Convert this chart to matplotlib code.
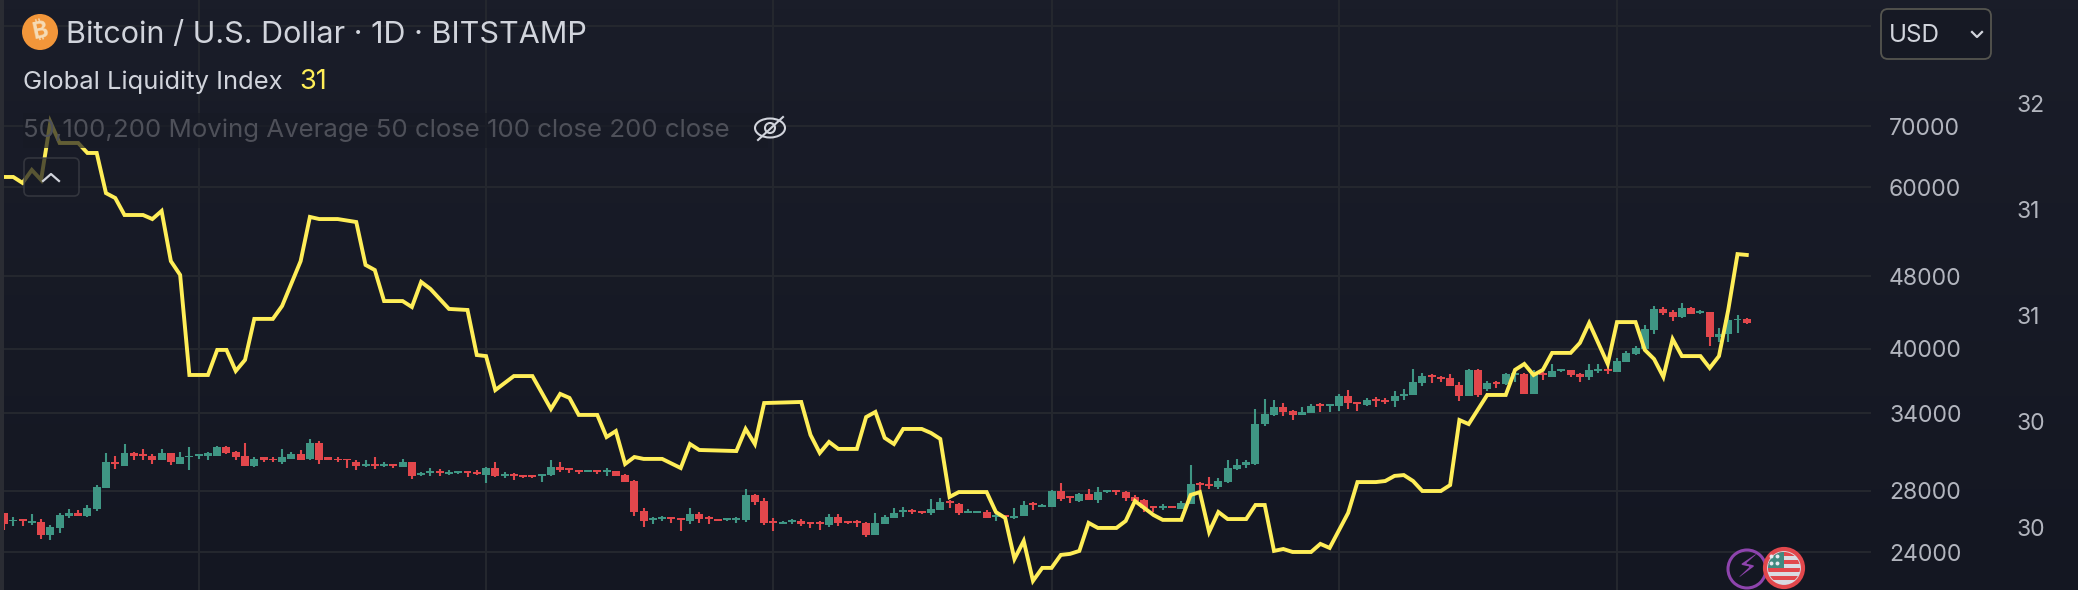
import matplotlib
matplotlib.use("Agg")
import matplotlib.pyplot as plt
from matplotlib.patches import Circle, Ellipse, FancyBboxPatch, Rectangle
import numpy as np

plt.rcParams['font.family'] = ['Inter', 'DejaVu Sans']

opens = [26490, 25920, 26050, 25850, 25890, 25050, 25500, 26290, 26490, 26290,
         26760, 28210, 30130, 29830, 30750, 30670, 30520, 30210, 30750, 29980,
         30440, 30520, 30590, 30590, 31220, 30830, 30520, 29830, 30440, 30360,
         30130, 30360, 30670, 30360, 31530, 30440, 30360, 30360, 30130, 29830,
         29980, 29830, 29980, 29750, 30130, 29160, 29310, 29460, 29230, 29310,
         29460, 29380, 29160, 29680, 29090, 29230, 29160, 29160, 29090, 29160,
         29750, 29680, 29530, 29380, 29530, 29380, 29450, 29160, 28720, 26620,
         26020, 26090, 26220, 26150, 25950, 26420, 26220, 26090, 26020, 26020,
         26020, 27720, 27300, 25950, 25760, 25890, 25950, 25890, 25890, 25690,
         26220, 25950, 25950, 25820, 25050, 25760, 26150, 26560, 26690, 26620,
         26490, 26690, 27300, 27100, 26490, 26490, 26560, 26220, 26360, 26150,
         26290, 27160, 26890, 26890, 28000, 27650, 27300, 27790, 27370, 27930,
         28070, 27930, 27580, 27370, 26960, 26830, 26960, 26760, 27100, 28570,
         28500, 28290, 28650, 29600, 29900, 29980, 33080, 33840, 34530, 34180,
         33840, 34010, 34800, 34620, 34620, 35510, 34970, 34710, 35240, 35150,
         35060, 35510, 35600, 36690, 37440, 37250, 37150, 36510, 35510, 37910,
         36140, 36780, 36600, 37440, 37530, 35690, 37630, 37250, 37820, 37910,
         37530, 37250, 37820, 38010, 37720, 38690, 39480, 39980, 41950, 44230,
         43900, 43340, 44340, 43790, 43900, 41210, 41530, 43010, 43120]
highs = [26490, 26220, 26090, 26420, 26090, 25700, 26490, 26760, 26690, 27030,
         28430, 30750, 30520, 31450, 30830, 31060, 30670, 31060, 30750, 30830,
         31290, 30670, 30830, 31370, 31370, 30910, 31530, 30440, 30440, 30440,
         31060, 30830, 30980, 31850, 31690, 30440, 30440, 30360, 30280, 30210,
         30440, 30060, 29980, 30360, 30130, 29380, 29680, 29600, 29530, 29460,
         29460, 29530, 29750, 30060, 29380, 29310, 29160, 29160, 29230, 30210,
         30130, 29680, 29530, 29530, 29530, 29680, 29450, 29230, 28790, 26830,
         26220, 26290, 26220, 26150, 26830, 26560, 26290, 26090, 26150, 26220,
         28140, 27790, 27510, 26150, 25950, 26090, 26090, 25890, 25950, 26420,
         26420, 25950, 26020, 25890, 26490, 26360, 26830, 26890, 26760, 26620,
         27440, 27510, 27370, 27160, 26760, 26620, 26690, 26490, 26360, 26830,
         27300, 27230, 27100, 28070, 28570, 27650, 27860, 28140, 28290, 28070,
         28070, 28000, 27720, 27440, 26960, 27100, 26960, 27300, 29900, 28650,
         29010, 28940, 30280, 30360, 30280, 34350, 35240, 35150, 34880, 34260,
         34530, 34800, 34880, 34800, 35690, 36050, 34970, 35330, 35420, 35330,
         35960, 36140, 38010, 37630, 37530, 37340, 37530, 36780, 38010, 38010,
         36880, 36880, 37630, 37910, 37630, 37910, 37720, 38500, 38010, 37910,
         37630, 38500, 38500, 38200, 39080, 39780, 40290, 42480, 44570, 44450,
         44120, 44900, 44450, 44120, 43900, 42160, 43570, 43570, 43230]
lows = [25370, 25630, 25630, 25700, 24800, 24740, 25180, 26150, 26290, 26220,
        26620, 28210, 29600, 29830, 30280, 30280, 29980, 30210, 29900, 29980,
        29530, 30360, 30210, 30590, 30670, 30210, 29830, 29750, 30060, 30060,
        29980, 30360, 30210, 30280, 29980, 30280, 30060, 29680, 29530, 29750,
        29600, 29750, 29680, 29750, 28860, 29090, 29090, 29090, 29160, 29230,
        29010, 29160, 28580, 29010, 28940, 28790, 28940, 28940, 28650, 29090,
        29380, 29310, 29230, 29380, 29230, 29090, 29080, 28650, 26290, 25560,
        25760, 25950, 25820, 25310, 25760, 25820, 25760, 25950, 25950, 25820,
        25890, 27030, 25690, 25310, 25760, 25760, 25630, 25500, 25370, 25560,
        25630, 25760, 25560, 24930, 25050, 25760, 26150, 26220, 26420, 26420,
        26360, 26690, 26830, 26360, 26490, 26490, 26150, 25950, 26090, 26090,
        26290, 26690, 26890, 26890, 27300, 27160, 27230, 27370, 27160, 27860,
        27720, 27300, 27300, 26560, 26560, 26690, 26830, 26760, 27100, 28070,
        28140, 28140, 28570, 29530, 29680, 29900, 32910, 33750, 33750, 33420,
        33840, 34010, 34090, 34090, 34180, 34350, 34180, 34620, 34530, 34800,
        34530, 35150, 35600, 36420, 36690, 36780, 36420, 35060, 35510, 35420,
        35960, 36230, 36510, 36780, 35690, 35690, 36970, 37250, 37720, 37250,
        36780, 36970, 37630, 37530, 37720, 38690, 39380, 39980, 41530, 43570,
        42900, 43230, 43680, 43680, 40290, 40690, 40690, 41630, 42590]
closes = [25760, 26020, 25920, 25960, 25050, 25570, 26360, 26490, 26290, 26820,
          28290, 30060, 29980, 30750, 30520, 30520, 30210, 30750, 30060, 30440,
          30590, 30670, 30750, 31220, 30750, 30440, 29830, 30360, 30280, 30210,
          30440, 30670, 30280, 31530, 30280, 30280, 30210, 30210, 29830, 29980,
          29830, 29980, 29830, 30130, 29080, 29310, 29460, 29310, 29380, 29460,
          29310, 29230, 29680, 29090, 29230, 29090, 29010, 29010, 29230, 29750,
          29530, 29530, 29380, 29530, 29380, 29530, 29080, 28650, 26560, 25950,
          26150, 26220, 26090, 26020, 26420, 26090, 26090, 25950, 26150, 26150,
          27720, 27230, 25820, 25820, 25890, 26020, 25760, 25760, 25760, 26220,
          25820, 25820, 25820, 25050, 25820, 26220, 26490, 26690, 26560, 26490,
          26760, 27230, 27160, 26490, 26620, 26620, 26150, 26360, 26220, 26290,
          27030, 27030, 27030, 28000, 27440, 27510, 27790, 27370, 27930, 28070,
          27930, 27510, 27300, 26830, 26830, 26960, 26830, 27160, 28500, 28430,
          28360, 28720, 29680, 29900, 30060, 33080, 33930, 34530, 34090, 33840,
          34090, 34620, 34620, 34800, 35510, 34880, 34800, 35150, 35060, 34970,
          35510, 35690, 36780, 37340, 37250, 37060, 36420, 35510, 37910, 35600,
          36690, 36600, 37530, 37630, 35690, 37530, 37440, 37820, 38010, 37440,
          37250, 37910, 38010, 37820, 38790, 39580, 40080, 42050, 44230, 43790,
          43340, 44340, 43680, 44010, 41210, 41530, 43010, 43120, 42690]

# bars where the liquidity line changes direction, and its value there
line_bars = [0, 1, 2, 3, 4, 5, 6, 8, 9, 10, 11, 12, 13, 15, 16, 17, 18, 19, 20, 22,
             23, 24, 25, 26, 27, 29, 30, 32, 33, 34, 36, 38, 39, 40, 41, 43, 44, 45, 46, 48,
             50, 51, 52, 53, 55, 57, 59, 60, 61, 62, 64, 65, 66, 67, 68, 69, 71, 73, 74, 75,
             79, 80, 81, 82, 86, 87, 88, 89, 90, 92, 93, 94, 95, 96, 97, 99, 100, 101, 102, 103,
             106, 107, 108, 109, 110, 111, 112, 113, 114, 115, 116, 117, 118, 120, 121, 122, 124, 125, 127, 128,
             129, 130, 131, 132, 134, 135, 136, 137, 138, 139, 141, 142, 143, 145, 146, 148, 149, 150, 151, 152,
             153, 155, 156, 157, 158, 160, 162, 163, 164, 165, 166, 167, 169, 170, 171, 173, 174, 176, 177, 178,
             179, 180, 181, 183, 184, 185, 186, 187, 188]
line_vals = [31.652, 31.652, 31.624, 31.685, 31.638, 31.911, 31.812, 31.812, 31.765, 31.765,
             31.576, 31.553, 31.473, 31.473, 31.454, 31.492, 31.256, 31.191, 30.720, 30.720,
             30.838, 30.838, 30.739, 30.791, 30.984, 30.984, 31.045, 31.256, 31.464, 31.454,
             31.454, 31.440, 31.238, 31.214, 31.068, 31.068, 31.040, 31.158, 31.125, 31.031,
             31.026, 30.814, 30.809, 30.649, 30.715, 30.715, 30.560, 30.631, 30.612, 30.532,
             30.532, 30.428, 30.456, 30.301, 30.334, 30.325, 30.325, 30.282, 30.395, 30.367,
             30.362, 30.466, 30.395, 30.588, 30.593, 30.438, 30.353, 30.405, 30.372, 30.372,
             30.522, 30.546, 30.424, 30.395, 30.466, 30.466, 30.447, 30.419, 30.146, 30.169,
             30.169, 30.075, 30.047, 29.854, 29.939, 29.751, 29.812, 29.812, 29.873, 29.878,
             29.892, 30.024, 30.000, 30.000, 30.033, 30.127, 30.061, 30.038, 30.038, 30.155,
             30.169, 29.981, 30.075, 30.042, 30.042, 30.108, 30.108, 29.892, 29.901, 29.887,
             29.887, 29.925, 29.906, 30.071, 30.216, 30.216, 30.221, 30.245, 30.249, 30.221,
             30.174, 30.174, 30.202, 30.508, 30.489, 30.626, 30.626, 30.744, 30.772, 30.720,
             30.744, 30.824, 30.824, 30.871, 30.965, 30.772, 30.969, 30.969, 30.838, 30.795,
             30.711, 30.889, 30.809, 30.809, 30.753, 30.809, 31.026, 31.289, 31.285]

price_ticks = [24000, 28000, 34000, 40000, 48000, 60000, 70000, 90000]
price_labels = ['24000', '28000', '34000', '40000', '48000', '60000', '70000', '']
liq_ticks = [30, 30.5, 31, 31.5, 32]
liq_labels = ['30', '30', '31', '31', '32']
month_bars = [21, 52, 83, 113, 144, 174]

BG_TOP = '#1a1d29'
BG_BOTTOM = '#141722'
GRID = '#25282f'
GREEN = '#3f9684'
RED = '#e2474c'
YELLOW = '#ffee58'
TEXT = '#d1d4dc'
AXIS = '#b2b5be'

W, H = 2078, 590
fig = plt.figure(figsize=(W / 100, H / 100), dpi=100)

# background, slightly lighter towards the top
bg = fig.add_axes([0, 0, 1, 1], zorder=-1)
top = np.array(matplotlib.colors.to_rgb(BG_TOP))
bot = np.array(matplotlib.colors.to_rgb(BG_BOTTOM))
grad = np.linspace(0, 1, 64)[:, None, None] * (bot - top) + top
bg.imshow(grad, aspect='auto', extent=[0, W, H, 0])
bg.axis('off')

ax = fig.add_axes([4 / W, 0, 1867 / W, 1])
ax.patch.set_visible(False)
ax.set_yscale('log')
ax.set_xlim(0, 201.4)
ax.set_ylim(21820, 96070)

opens_a, closes_a = np.array(opens), np.array(closes)
bars = np.arange(len(opens))
colors = [GREEN if c >= o else RED for o, c in zip(opens, closes)]
ax.vlines(bars, lows, highs, colors=colors, linewidth=1.5, zorder=3)
ax.bar(bars, np.abs(closes_a - opens_a), bottom=np.minimum(opens_a, closes_a),
       width=0.86, color=colors, linewidth=0, zorder=3)

ax.set_xticks(month_bars)
ax.set_xticklabels([])
ax.set_yticks(price_ticks)
ax.set_yticklabels(price_labels)
ax.set_yticks([], minor=True)
ax.tick_params(axis='both', length=0)
ax.grid(True, color=GRID, linewidth=1.4)
ax.set_axisbelow(True)
for s in ax.spines.values():
    s.set_visible(False)

ax2 = ax.twinx()
ax2.set_ylim(29.708, 32.485)
ax2.plot(line_bars, line_vals, color=YELLOW, linewidth=2.8, solid_joinstyle='miter', zorder=5)
ax2.set_yticks(liq_ticks)
ax2.set_yticklabels(liq_labels)
ax2.tick_params(axis='y', length=0, labelsize=16.5, labelcolor=AXIS, pad=105)
for s in ax2.spines.values():
    s.set_visible(False)

# twinx puts the first axis back on the left
ax.yaxis.tick_right()
ax.tick_params(axis='y', length=0, labelsize=16.5, labelcolor=AXIS, pad=13)

# overlay in pixel coordinates for the legend and the widgets
ov = fig.add_axes([0, 0, 1, 1], zorder=10)
ov.set_xlim(0, W)
ov.set_ylim(H, 0)
ov.axis('off')
ov.patch.set_visible(False)

ov.add_patch(Rectangle((0, 0), 4, H, color='#2a2c33', linewidth=0))

# legend rows dim what runs behind them
ov.add_patch(Rectangle((23, 113), 745, 35, color='#171a25', alpha=0.68, linewidth=0))
ov.add_patch(FancyBboxPatch((24, 158), 55, 38, boxstyle='round,pad=0,rounding_size=5',
                            facecolor='#171a25', edgecolor='#3e4047', linewidth=1.2, alpha=0.72))
ov.plot([43, 51, 59], [181, 174, 181], color=TEXT, linewidth=1.6)

ov.add_patch(Circle((40, 32), 18, color='#f2963a', linewidth=0))
ov.text(40, 32, '₿', color='#f6dcb6', fontsize=17, ha='center', va='center', rotation=12,
        family=['Inter', 'Noto Sans', 'Roboto', 'Open Sans', 'Lato', 'Liberation Sans', 'DejaVu Sans'],
        fontweight='bold')
ov.text(66, 35, 'Bitcoin / U.S. Dollar · 1D · BITSTAMP', color=TEXT, fontsize=22, va='center')
ov.text(23, 82, 'Global Liquidity Index', color=TEXT, fontsize=18.4, va='center')
ov.text(299, 82, '31', color=YELLOW, fontsize=19.5, va='center')
ov.text(23, 130, '50,100,200 Moving Average 50 close 100 close 200 close', color='#4e5059',
        fontsize=18.6, va='center')

# crossed out eye
ov.add_patch(Ellipse((770, 128), 30, 19, fill=False, edgecolor=TEXT, linewidth=1.5))
ov.add_patch(Circle((770, 128), 5, fill=False, edgecolor=TEXT, linewidth=1.5))
ov.plot([758, 783], [140, 117], color=TEXT, linewidth=1.5)

# currency button
ov.add_patch(FancyBboxPatch((1881, 9), 110, 50, boxstyle='round,pad=0,rounding_size=7',
                            facecolor='#161924', edgecolor='#55554f', linewidth=1.3))
ov.text(1889, 36, 'USD', color=TEXT, fontsize=17.5, va='center')
ov.plot([1972, 1977, 1982], [32, 37, 32], color=TEXT, linewidth=1.6)

# event markers
ov.add_patch(Circle((1747, 569), 19, fill=False, edgecolor='#8e44ad', linewidth=2.2))
ov.text(1747, 569, '⚡', color='#8e44ad', fontsize=22, ha='center', va='center', family='DejaVu Sans')
ring = Circle((1784, 568), 19, facecolor='#d9dbe2', edgecolor=RED, linewidth=3, zorder=4)
ov.add_patch(ring)
clip = Circle((1784, 568), 16, transform=ov.transData)
for yy in [552, 560, 568, 576]:
    st = Rectangle((1765, yy), 40, 4, color=RED, linewidth=0, zorder=5)
    ov.add_patch(st)
    st.set_clip_path(clip)
canton = Rectangle((1766, 551), 18, 17, color='#3f8a80', linewidth=0, zorder=6)
ov.add_patch(canton)
canton.set_clip_path(clip)
ov.scatter([1771, 1777, 1771, 1777], [556, 556, 563, 563], s=8, color='#e6e8ee', linewidths=0, zorder=7)

fig.savefig('out.png', dpi=100, facecolor=BG_BOTTOM)
